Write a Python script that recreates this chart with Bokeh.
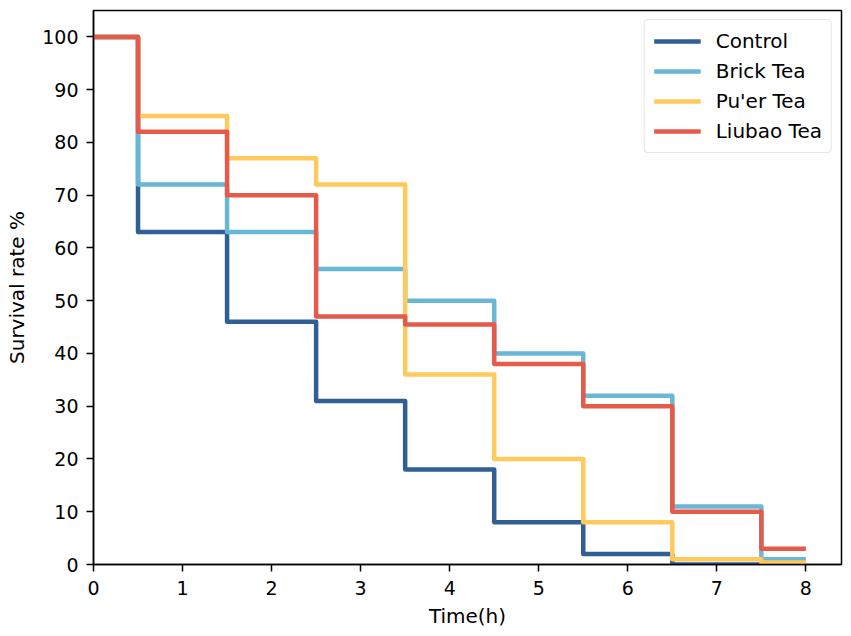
from bokeh.plotting import figure
from bokeh.models import Range1d, Legend, LegendItem, FixedTicker
from bokeh.embed import file_html
from bokeh.resources import INLINE

time_h = [0, 0.5, 1.5, 2.5, 3.5, 4.5, 5.5, 6.5, 7.5, 8]
control = [100, 63, 46, 31, 18, 8, 2, 0, 0, 0]
brick_tea = [100, 72, 63, 56, 50, 40, 32, 11, 1, 1]
puer_tea = [100, 85, 77, 72, 36, 20, 8, 1, 0.4, 0.4]
liubao_tea = [100, 82, 70, 47, 45.5, 38, 30, 10, 3, 3]

series_names = ["Control", "Brick Tea", "Pu'er Tea", "Liubao Tea"]
series_values = [control, brick_tea, puer_tea, liubao_tea]
colors = ["#2F5F93", "#68B7D6", "#FFC95E", "#E65A4A"]

x_ticks = [0, 1, 2, 3, 4, 5, 6, 7, 8]
y_ticks = [0, 10, 20, 30, 40, 50, 60, 70, 80, 90, 100]

FONT = "DejaVu Sans"

p = figure(width=843, height=632, output_backend="svg", toolbar_location=None,
           x_range=Range1d(0, 8.4), y_range=Range1d(0, 105),
           min_border_left=93, min_border_right=2, min_border_top=10, min_border_bottom=68)
p.grid.visible = False
p.outline_line_color = "black"
p.outline_line_width = 1.5
p.background_fill_color = "white"
p.border_fill_color = "white"

items = []
for name, vals, col in zip(series_names, series_values, colors):
    r = p.step(time_h, vals, mode="after", line_color=col, line_width=4.5,
               line_join="round", line_cap="butt")
    items.append(LegendItem(label=name, renderers=[r]))

for ax in (p.xaxis[0], p.yaxis[0]):
    ax.axis_line_color = "black"
    ax.axis_line_width = 1.5
    ax.major_tick_line_color = "black"
    ax.major_tick_line_width = 1.5
    ax.major_tick_out = 7
    ax.major_tick_in = 0
    ax.minor_tick_out = 0
    ax.minor_tick_in = 0
    ax.major_label_text_font = FONT
    ax.major_label_text_font_size = "19px"
    ax.major_label_text_color = "black"
    ax.axis_label_text_font = FONT
    ax.axis_label_text_font_size = "20px"
    ax.axis_label_text_font_style = "normal"
    ax.axis_label_text_color = "black"

p.xaxis.ticker = FixedTicker(ticks=x_ticks)
p.yaxis.ticker = FixedTicker(ticks=y_ticks)
p.xaxis.axis_label = "Time(h)"
p.yaxis.axis_label = "Survival rate %"
p.xaxis.major_label_standoff = 9
p.yaxis.major_label_standoff = 8
p.xaxis.axis_label_standoff = 6
p.yaxis.axis_label_standoff = 10

legend = Legend(items=items, location="top_right")
legend.label_text_font = FONT
legend.label_text_font_size = "20px"
legend.label_text_color = "black"
legend.glyph_width = 47
legend.glyph_height = 22
legend.label_height = 22
legend.label_standoff = 15
legend.spacing = 6
legend.padding = 9
legend.margin = 9
legend.border_line_color = "#CCCCCC"
legend.border_line_width = 1
legend.border_radius = 4
legend.background_fill_alpha = 0.8
p.add_layout(legend)

open("out.html", "w").write(file_html(p, INLINE))
